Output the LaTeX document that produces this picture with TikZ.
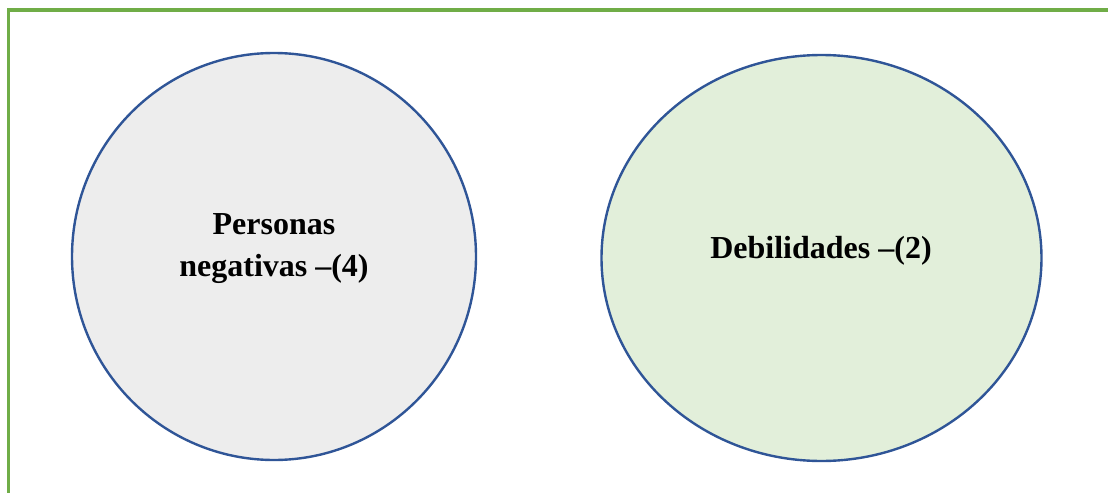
\documentclass[tikz,border=0pt]{standalone}
\usepackage{fontspec}
\setmainfont{Liberation Serif}
\definecolor{framegreen}{HTML}{70AD47}
\definecolor{ringblue}{HTML}{2F5597}
\definecolor{greyfill}{HTML}{EDEDED}
\definecolor{greenfill}{HTML}{E2EFDA}
\begin{document}
\begin{tikzpicture}[x=0.75pt,y=-0.75pt,
  ring/.style={draw=ringblue, line width=1.8pt},
  lbl/.style={font=\fontsize{24}{31.5}\selectfont\bfseries, align=center, inner sep=0pt, text=black},
  frameline/.style={draw=framegreen, line width=2.6pt}]
\useasboundingbox (0,0) rectangle (1108,493);
% green frame (top and left only)
\coordinate (fb) at (8.5,493);
\coordinate (ftl) at (8.5,10);
\coordinate (ftr) at (1108,10);
\draw[frameline] (fb) -- (ftl) -- (ftr);
% circles
\draw[ring, fill=greyfill] (274,256.5) ellipse [x radius=202, y radius=203.5];
\draw[ring, fill=greenfill] (821.5,258) ellipse [x radius=220, y radius=203];
% labels
\node[lbl] (personas) at (274,249) {Personas\\negativas –(4)};
\node[lbl, anchor=base] (debilidades) at (821,258) {Debilidades –(2)};
\end{tikzpicture}
\end{document}
